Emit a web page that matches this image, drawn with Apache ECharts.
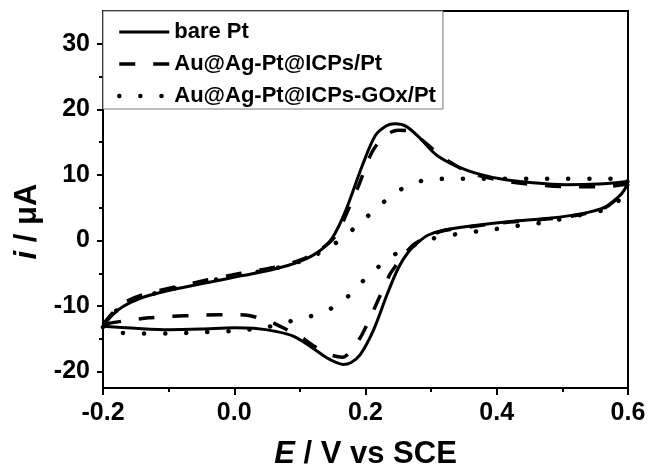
<!DOCTYPE html>
<html>
<head>
<meta charset="utf-8">
<title>CV</title>
<script src="https://cdn.jsdelivr.net/npm/echarts@6/dist/echarts.min.js"></script>
<style>
  html, body { margin: 0; padding: 0; background: #fff; }
  #chart { width: 652px; height: 475px; }
</style>
</head>
<body>
<div id="chart"></div>
<script type="text/javascript">
// 图例名称
var seriesNames = ['bare Pt', 'Au@Ag-Pt@ICPs/Pt', 'Au@Ag-Pt@ICPs-GOx/Pt'];

// bare Pt : 正扫 -0.2 -> 0.6, 再回扫 0.6 -> -0.2
var bareE = [-0.2, -0.185, -0.17, -0.14, -0.09, -0.04, 0.01, 0.06, 0.10, 0.13, 0.15, 0.17, 0.195, 0.215, 0.232, 0.245, 0.262, 0.283, 0.31, 0.355, 0.405, 0.455, 0.505, 0.555, 0.6,
             0.595, 0.585, 0.565, 0.53, 0.48, 0.42, 0.36, 0.32, 0.295, 0.28, 0.265, 0.25, 0.233, 0.212, 0.192, 0.178, 0.166, 0.155, 0.141, 0.115, 0.09, 0.065, 0.03, 0.0, -0.05, -0.1, -0.15, -0.2];
var bareI = [-13.0, -11.3, -10.1, -8.7, -7.4, -6.4, -5.4, -4.4, -3.2, -1.6, 0.5, 4.6, 11.4, 16.0, 17.5, 17.8, 17.4, 15.6, 12.9, 10.7, 9.4, 8.8, 8.5, 8.6, 9.0,
             7.8, 6.6, 5.1, 4.1, 3.4, 2.9, 2.2, 1.6, 0.8, -0.3, -1.8, -4.2, -8.2, -13.7, -17.4, -18.6, -18.9, -18.6, -17.9, -16.1, -14.6, -13.9, -13.4, -13.3, -13.5, -13.6, -13.4, -13.1];

// Au@Ag-Pt@ICPs/Pt
var icpE = [-0.2, -0.185, -0.17, -0.14, -0.09, -0.04, 0.01, 0.06, 0.10, 0.13, 0.155, 0.175, 0.19, 0.21, 0.23, 0.25, 0.27, 0.29, 0.32, 0.36, 0.41, 0.46, 0.51, 0.56, 0.6,
            0.595, 0.585, 0.565, 0.53, 0.48, 0.42, 0.36, 0.32, 0.295, 0.275, 0.26, 0.245, 0.237, 0.212, 0.195, 0.181, 0.165, 0.146, 0.12, 0.10, 0.08, 0.06, 0.04, 0.02, 0.0, -0.05, -0.1, -0.13, -0.17, -0.2];
var icpI = [-12.8, -11.0, -9.6, -8.3, -7.1, -6.0, -5.0, -4.1, -3.0, -1.5, 0.8, 5.0, 8.5, 13.5, 16.0, 16.8, 16.6, 15.0, 12.5, 10.3, 9.1, 8.5, 8.2, 8.2, 8.6,
            7.6, 6.5, 5.0, 4.0, 3.3, 2.8, 2.1, 1.5, 0.6, -0.5, -2.0, -4.0, -5.2, -10.7, -14.3, -16.4, -17.8, -17.4, -16.0, -14.6, -13.6, -12.6, -11.9, -11.4, -11.3, -11.4, -11.6, -11.8, -12.3, -12.8];

// Au@Ag-Pt@ICPs-GOx/Pt
var goxE = [-0.2, -0.185, -0.17, -0.14, -0.09, -0.04, 0.01, 0.06, 0.10, 0.13, 0.15, 0.175, 0.2, 0.227, 0.256, 0.29, 0.324, 0.36, 0.4, 0.45, 0.5, 0.55, 0.6,
            0.595, 0.585, 0.57, 0.545, 0.512, 0.477, 0.443, 0.41, 0.378, 0.341, 0.303, 0.28, 0.25, 0.225, 0.2, 0.175, 0.149, 0.115, 0.082, 0.05, 0.0, -0.05, -0.1, -0.17, -0.2];
var goxI = [-13.2, -11.2, -10.0, -8.6, -7.3, -6.2, -5.2, -4.3, -3.2, -1.9, -0.7, 1.2, 3.4, 5.8, 7.9, 9.2, 9.4, 9.4, 9.4, 9.4, 9.4, 9.4, 9.5,
            7.6, 6.0, 4.9, 4.2, 3.6, 2.8, 2.4, 1.9, 1.5, 1.0, 0.3, -0.5, -1.8, -3.6, -5.8, -8.4, -10.3, -11.6, -12.4, -13.2, -13.8, -14.0, -14.2, -14.1, -13.6];

// 坐标轴范围与刻度
var xRange = [-0.2, 0.6];
var xStep = 0.2;
var yRange = [-22.5, 35];
var yMajor = [-20, -10, 0, 10, 20, 30];
var yMinor = [-15, -5, 5, 15, 25];

function pairs(xs, ys) {
  var out = [];
  for (var k = 0; k < xs.length; k++) out.push([xs[k], ys[k]]);
  return out;
}

var FONT = '"Liberation Sans", Arial, sans-serif';
var myChart = echarts.init(document.getElementById('chart'));

var tickLine = { color: '#000', width: 2 };
// 三条线的样式（曲线与图例共用）
var solidStyle = { color: '#000', width: 3 };
var dashStyle = { color: '#000', width: 3.5, type: [16, 18] };
var dotStyle = { color: '#000', width: 4.5, type: [0.1, 21], cap: 'round' };

myChart.setOption({
  animation: false,
  backgroundColor: '#fff',
  grid: {
    left: 103, right: 24, top: 11, bottom: 80,
    show: true, borderColor: '#000', borderWidth: 2
  },
  legend: {
    orient: 'vertical',
    left: 103, top: 11,
    padding: [10, 7, 2, 14],
    borderColor: '#777', borderWidth: 1,
    backgroundColor: '#fff',
    itemWidth: 50, itemHeight: 14, itemGap: 10,
    data: [
      { name: seriesNames[0], lineStyle: solidStyle },
      { name: seriesNames[1], lineStyle: dashStyle },
      { name: seriesNames[2], lineStyle: dotStyle }
    ],
    itemStyle: { color: 'rgba(0,0,0,0)', borderWidth: 0 },
    textStyle: { fontFamily: FONT, fontWeight: 'bold', fontSize: 22, lineHeight: 21, color: '#000' }
  },
  xAxis: {
    type: 'value',
    min: xRange[0], max: xRange[1], interval: xStep,
    name: '{it|E} / V vs SCE',
    nameLocation: 'middle', nameGap: 51,
    nameTextStyle: {
      fontFamily: FONT, fontWeight: 'bold', fontSize: 31, color: '#000',
      rich: { it: { fontFamily: FONT, fontWeight: 'bold', fontStyle: 'italic', fontSize: 31, color: '#000' } }
    },
    axisLine: { onZero: false, lineStyle: { color: '#000', width: 2 } },
    axisTick: { length: 7, lineStyle: tickLine },
    minorTick: { show: true, splitNumber: 2, length: 4, lineStyle: tickLine },
    splitLine: { show: false },
    axisLabel: {
      margin: 13, fontFamily: FONT, fontWeight: 'bold', fontSize: 25, color: '#000',
      formatter: function (v) { return v.toFixed(1); }
    }
  },
  yAxis: [
    {
      type: 'value',
      min: yRange[0], max: yRange[1],
      name: '{it|i} / μA',
      nameLocation: 'middle', nameGap: 57,
      nameTextStyle: {
        fontFamily: FONT, fontWeight: 'bold', fontSize: 31, color: '#000',
        padding: [0, 44, 0, 0],
        rich: { it: { fontFamily: FONT, fontWeight: 'bold', fontStyle: 'italic', fontSize: 31, color: '#000' } }
      },
      axisLine: { show: true, onZero: false, lineStyle: { color: '#000', width: 2 } },
      axisTick: { show: true, length: 6, customValues: yMajor, lineStyle: tickLine },
      splitLine: { show: false },
      axisLabel: {
        margin: 13, fontFamily: FONT, fontWeight: 'bold', fontSize: 25, color: '#000',
        customValues: yMajor
      }
    },
    {
      // 次刻度
      type: 'value', position: 'left', offset: 0,
      min: yRange[0], max: yRange[1],
      axisLine: { show: false, onZero: false },
      axisTick: { show: true, length: 4, customValues: yMinor, lineStyle: tickLine },
      axisLabel: { show: false, customValues: yMinor },
      splitLine: { show: false }
    }
  ],
  series: [
    {
      name: seriesNames[0], type: 'line', data: pairs(bareE, bareI),
      symbol: 'none', smooth: 0.3, color: '#000', lineStyle: solidStyle
    },
    {
      name: seriesNames[1], type: 'line', data: pairs(icpE, icpI),
      symbol: 'none', smooth: 0.3, color: '#000', lineStyle: dashStyle
    },
    {
      name: seriesNames[2], type: 'line', data: pairs(goxE, goxI),
      symbol: 'none', smooth: 0.3, color: '#000', lineStyle: dotStyle
    }
  ]
});
</script>
</body>
</html>
